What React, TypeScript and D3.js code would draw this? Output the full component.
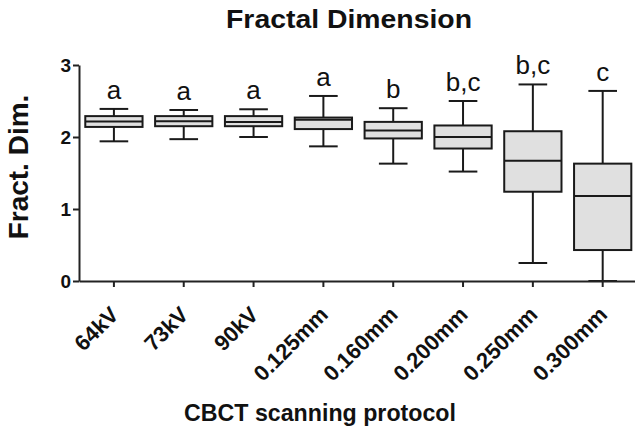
import React, { useEffect, useRef } from 'react';
import * as d3 from 'd3';

// protocols on the x axis
const categories = ['64kV', '73kV', '90kV', '0.125mm', '0.160mm', '0.200mm', '0.250mm', '0.300mm'];

// box plot summary
const whiskerMax = [2.39, 2.375, 2.385, 2.57, 2.40, 2.50, 2.73, 2.64];
const q3 = [2.29, 2.29, 2.29, 2.27, 2.21, 2.16, 2.08, 1.63];
const median = [2.215, 2.22, 2.21, 2.24, 2.09, 2.00, 1.67, 1.18];
const q1 = [2.14, 2.15, 2.15, 2.11, 1.98, 1.84, 1.24, 0.43];
const whiskerMin = [1.94, 1.97, 2.0, 1.87, 1.63, 1.52, 0.25, 0.0];

// significance groups
const letters = ['a', 'a', 'a', 'a', 'b', 'b,c', 'b,c', 'c'];

const yTicks = [0, 1, 2, 3];

const width = 635;
const height = 432;
const font = 'Liberation Sans, Arial, sans-serif';

export default function App() {
  const plot = useRef<SVGGElement>(null);
  const xAxis = useRef<SVGGElement>(null);
  const yAxis = useRef<SVGGElement>(null);

  const xScale = d3.scaleBand<string>()
    .domain(categories)
    .range([79, 637.6])
    .paddingInner(0.18)
    .paddingOuter(0.09);

  const yScale = d3.scaleLinear().domain([0, 3]).range([281, 65]);

  useEffect(() => {
    const xa = d3.select(xAxis.current);
    xa.selectAll('*').remove();
    xa.call(d3.axisBottom(xScale).tickSize(6).tickSizeOuter(0).tickFormat(() => ''));
    xa.select('.domain').attr('stroke', '#222').attr('stroke-width', 2);
    xa.selectAll('.tick line').attr('stroke', '#222').attr('stroke-width', 2);

    const ya = d3.select(yAxis.current);
    ya.selectAll('*').remove();
    ya.call(d3.axisLeft(yScale).tickValues(yTicks).tickSize(6).tickSizeOuter(0).tickFormat(d3.format('d')));
    ya.select('.domain').attr('stroke', '#222').attr('stroke-width', 2);
    ya.selectAll('.tick line').attr('stroke', '#222').attr('stroke-width', 2);
    ya.selectAll('.tick text')
      .attr('font-family', font)
      .attr('font-weight', 'bold')
      .attr('font-size', 19)
      .attr('fill', '#111')
      .attr('x', -8)
      .attr('dy', '0.36em');

    const g = d3.select(plot.current);
    g.selectAll('*').remove();
    const bw = xScale.bandwidth();
    const boxes = g.selectAll('g.box')
      .data(categories)
      .join('g')
      .attr('class', 'box')
      .attr('transform', d => `translate(${xScale(d)! + bw / 2},0)`);

    // whisker stem
    boxes.append('line')
      .attr('y1', (d, i) => yScale(whiskerMax[i]))
      .attr('y2', (d, i) => yScale(whiskerMin[i]))
      .attr('stroke', '#1a1a1a').attr('stroke-width', 2);

    // whisker caps
    [whiskerMax, whiskerMin].forEach(arr => {
      boxes.append('line')
        .attr('x1', -bw / 4).attr('x2', bw / 4)
        .attr('y1', (d, i) => yScale(arr[i]))
        .attr('y2', (d, i) => yScale(arr[i]))
        .attr('stroke', '#1a1a1a').attr('stroke-width', 2);
    });

    boxes.append('rect')
      .attr('x', -bw / 2)
      .attr('width', bw)
      .attr('y', (d, i) => yScale(q3[i]))
      .attr('height', (d, i) => yScale(q1[i]) - yScale(q3[i]))
      .attr('fill', '#e0e0e0')
      .attr('stroke', '#1a1a1a').attr('stroke-width', 2);

    boxes.append('line')
      .attr('x1', -bw / 2).attr('x2', bw / 2)
      .attr('y1', (d, i) => yScale(median[i]))
      .attr('y2', (d, i) => yScale(median[i]))
      .attr('stroke', '#1a1a1a').attr('stroke-width', 2);

    boxes.append('text')
      .attr('y', (d, i) => yScale(whiskerMax[i]) - 10)
      .attr('text-anchor', 'middle')
      .attr('font-family', font)
      .attr('font-size', 26)
      .attr('fill', '#111')
      .text((d, i) => letters[i]);

    boxes.append('text')
      .attr('transform', 'translate(6,316) rotate(-45)')
      .attr('text-anchor', 'end')
      .attr('font-family', font)
      .attr('font-weight', 'bold')
      .attr('font-size', 22)
      .attr('fill', '#111')
      .text(d => d);
  }, []);

  return (
    <svg width={width} height={height} style={{ position: 'absolute', left: 0, top: 0, background: '#fff' }}>
      <text x={349} y={28} textAnchor="middle" fontFamily={font} fontWeight="bold" fontSize={25}
        textLength={246} lengthAdjust="spacingAndGlyphs" fill="#111">Fractal Dimension</text>
      <text transform="translate(28,167) rotate(-90)" textAnchor="middle" fontFamily={font}
        fontWeight="bold" fontSize={28} fill="#111">Fract. Dim.</text>
      <text x={320} y={421} textAnchor="middle" fontFamily={font} fontWeight="bold" fontSize={24}
        textLength={272} lengthAdjust="spacingAndGlyphs" fill="#111">CBCT scanning protocol</text>
      <g ref={plot}></g>
      <g ref={xAxis} transform="translate(0,281)"></g>
      <g ref={yAxis} transform="translate(79,0)"></g>
    </svg>
  );
}
